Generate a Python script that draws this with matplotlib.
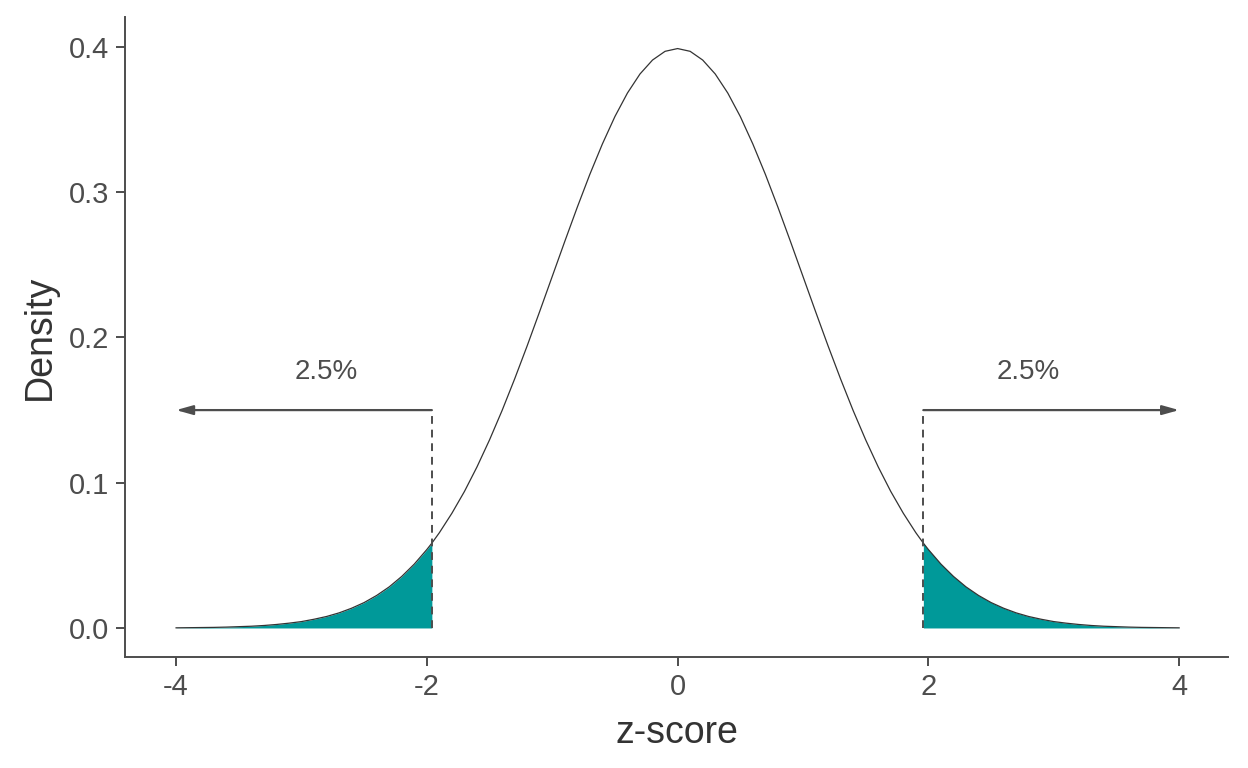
import numpy as np
import matplotlib
matplotlib.use('Agg')
import matplotlib.pyplot as plt

plt.rcParams['font.family'] = ['Liberation Sans', 'DejaVu Sans']

# density curve
zVals = [-4.0, -3.9, -3.8, -3.7, -3.6, -3.5, -3.4, -3.3, -3.2, -3.1,
         -3.0, -2.9, -2.8, -2.7, -2.6, -2.5, -2.4, -2.3, -2.2, -2.1,
         -2.0, -1.96, -1.9, -1.8, -1.7, -1.6, -1.5, -1.4, -1.3, -1.2, -1.1,
         -1.0, -0.9, -0.8, -0.7, -0.6, -0.5, -0.4, -0.3, -0.2, -0.1,
         0.0, 0.1, 0.2, 0.3, 0.4, 0.5, 0.6, 0.7, 0.8, 0.9,
         1.0, 1.1, 1.2, 1.3, 1.4, 1.5, 1.6, 1.7, 1.8, 1.9, 1.96,
         2.0, 2.1, 2.2, 2.3, 2.4, 2.5, 2.6, 2.7, 2.8, 2.9,
         3.0, 3.1, 3.2, 3.3, 3.4, 3.5, 3.6, 3.7, 3.8, 3.9, 4.0]
density = [0.0001, 0.0002, 0.0003, 0.0004, 0.0006, 0.0009, 0.0012, 0.0017, 0.0024, 0.0033,
           0.0044, 0.0060, 0.0079, 0.0104, 0.0136, 0.0175, 0.0224, 0.0283, 0.0355, 0.0440,
           0.0540, 0.0584, 0.0656, 0.0790, 0.0940, 0.1109, 0.1295, 0.1497, 0.1714, 0.1942, 0.2179,
           0.2420, 0.2661, 0.2897, 0.3123, 0.3332, 0.3521, 0.3683, 0.3814, 0.3910, 0.3970,
           0.3989, 0.3970, 0.3910, 0.3814, 0.3683, 0.3521, 0.3332, 0.3123, 0.2897, 0.2661,
           0.2420, 0.2179, 0.1942, 0.1714, 0.1497, 0.1295, 0.1109, 0.0940, 0.0790, 0.0656, 0.0584,
           0.0540, 0.0440, 0.0355, 0.0283, 0.0224, 0.0175, 0.0136, 0.0104, 0.0079, 0.0060,
           0.0044, 0.0033, 0.0024, 0.0017, 0.0012, 0.0009, 0.0006, 0.0004, 0.0003, 0.0002, 0.0001]

zCrit = 1.96
arrowY = 0.15
labelX = 2.8
labelY = 0.176
tailLabel = '2.5%'
xTicks = [-4, -2, 0, 2, 4]
yTicks = [0.0, 0.1, 0.2, 0.3, 0.4]

dark = '#4D4D4D'
teal = '#009999'

z = np.array(zVals)
d = np.array(density)

fig = plt.figure(figsize=(12.48, 7.68), dpi=100)
ax = fig.add_axes([0.1002, 0.1445, 0.8838, 0.8335])

lower = z <= -zCrit
upper = z >= zCrit
ax.fill_between(z[lower], 0, d[lower], color=teal, lw=0)
ax.fill_between(z[upper], 0, d[upper], color=teal, lw=0)
ax.plot(z, d, color='#333333', lw=0.9)

for side in (-1, 1):
    ax.plot([side * zCrit, side * zCrit], [0, arrowY], color=dark, lw=1.4, ls=(0, (4, 3)))
    ax.annotate('', xy=(side * 4, arrowY), xytext=(side * zCrit, arrowY),
                arrowprops=dict(arrowstyle='-|>,head_length=1.0,head_width=0.28',
                                color=dark, lw=1.6, shrinkA=0, shrinkB=0))
    ax.text(side * labelX, labelY, tailLabel, ha='center', va='center',
            fontsize=20, color=dark)

ax.set_xlim(-4.407, 4.39)
ax.set_ylim(-0.02, 0.4207)
ax.set_xticks(xTicks)
ax.set_xticklabels([str(t) for t in xTicks])
ax.set_yticks(yTicks)
ax.set_yticklabels(['%.1f' % t for t in yTicks])

for s in ('top', 'right'):
    ax.spines[s].set_visible(False)
for s in ('left', 'bottom'):
    ax.spines[s].set_color(dark)
    ax.spines[s].set_linewidth(1.4)
ax.tick_params(colors=dark, labelsize=21, width=1.4, length=6.5, pad=5)
ax.set_xlabel('z-score', fontsize=27, color='#333333', labelpad=10)
ax.set_ylabel('Density', fontsize=27, color='#333333', labelpad=8)

fig.savefig('out.png', dpi=100)
